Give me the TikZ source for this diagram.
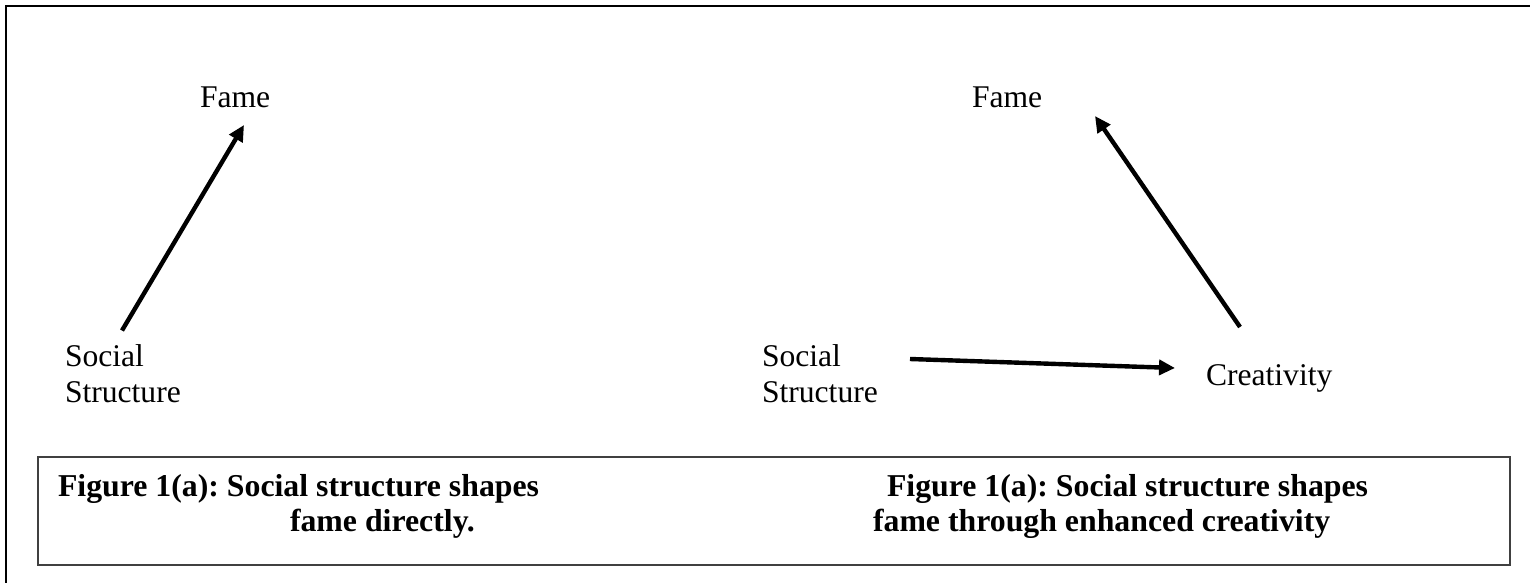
\documentclass[tikz,border=0pt]{standalone}
\usepackage{fontspec}
\setmainfont{Liberation Serif}
\usetikzlibrary{arrows.meta}
\frenchspacing
\tikzset{
  lbl/.style={inner sep=0pt, outer sep=0pt, font=\fontsize{15.8}{18}\selectfont},
  captext/.style={inner sep=0pt, outer sep=0pt, anchor=base west, font=\fontsize{15.9}{17.5}\selectfont\bfseries},
  arr/.style={line width=2.2pt, -{Triangle[length=8pt,width=7.5pt]}},
  outerframe/.style={line width=1.25pt, black},
  capframe/.style={draw=black!75, line width=0.75pt}
}
\begin{document}
\begin{tikzpicture}[x=0.5pt,y=-0.5pt]
\useasboundingbox (0,0) rectangle (1530,583);
% outer frame (open to the right and bottom)
\draw[outerframe] (6,600) -- (6,6) -- (1545,6);
% caption box
\node[capframe, anchor=north west, minimum width=736pt, minimum height=54pt, inner sep=0pt] (capbox) at (37,456) {};
% left diagram
\node[lbl, anchor=base west] (fameL) at (200,108) {Fame};
\node[lbl, anchor=north west, align=left] (ssL) at (65,344.5) {Social\\Structure};
\draw[arr] ([shift={(57,-14)}]ssL.north west) -- ([shift={(44,17)}]fameL.base west);
% right diagram
\node[lbl, anchor=base west] (fameR) at (972,107) {Fame};
\node[lbl, anchor=north west, align=left] (ssR) at (762,344.5) {Social\\Structure};
\node[lbl, anchor=base west] (crea) at (1206,385) {Creativity};
\draw[arr] ([shift={(148,14.5)}]ssR.north west) -- ([shift={(-31,-17)}]crea.base west);
\draw[arr] ([shift={(34,-58)}]crea.base west) -- ([shift={(123,9)}]fameR.base west);
% captions
\node[captext] (capLa) at (58,496) {Figure 1(a): Social structure shapes};
\node[captext] (capLb) at (290,531) {fame directly.};
\node[captext] (capRa) at (887,496) {Figure 1(a): Social structure shapes};
\node[captext] (capRb) at (873,531) {fame through enhanced creativity};
\end{tikzpicture}
\end{document}
